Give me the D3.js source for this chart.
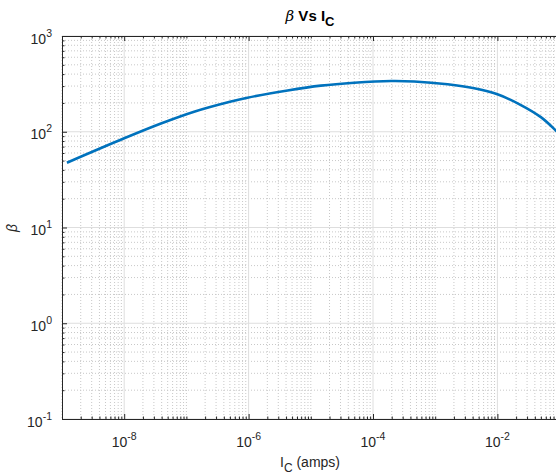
<!DOCTYPE html>
<html><head><meta charset="utf-8">
<script src="https://cdn.jsdelivr.net/npm/d3@7"></script>
<style>
body{margin:0;background:#fff;}
text{font-family:"Liberation Sans",Arial,Helvetica,sans-serif;}
</style></head>
<body><svg id="c" width="556" height="475"></svg>
<script>
// data
const icValues = [1.2e-9, 1e-8, 3.9e-8, 1.33e-7, 5.2e-7, 9.6e-7, 4.24e-6, 1.45e-5, 5.0e-5, 1.94e-4, 4.6e-4, 1.58e-3, 4.24e-3, 1e-2, 2.39e-2, 5.0e-2, 8.7e-2, 1e-1];
const betaValues = [47.5, 85.5, 122, 162, 207, 227, 270, 303, 325, 339, 335, 313, 284, 246, 190, 142, 103, 94];
const xMajorExp = [-8, -6, -4, -2];
const yMajorExp = [-1, 0, 1, 2, 3];

const svg = d3.select("#c");
const L = 62, T = 36, B = 419, R = 559.6;
const x = d3.scaleLog().domain([1e-9, 1e-1]).range([L, R]);
const y = d3.scaleLog().domain([1e-1, 1e3]).range([B, T]);

// minor values
const xMinor = [], yMinor = [];
for (let e = -9; e < -1; e++) for (let m = 1; m <= 9; m++) {
  const v = m * Math.pow(10, e);
  if (!(m === 1 && xMajorExp.includes(e))) xMinor.push(v);
}
xMinor.push(1e-1);
for (let e = -1; e < 3; e++) for (let m = 2; m <= 9; m++) yMinor.push(m * Math.pow(10, e));
const xMajor = xMajorExp.map(e => Math.pow(10, e));
const yMajor = yMajorExp.map(e => Math.pow(10, e));

const g = svg.append("g");
// minor grid
g.selectAll(".gxm").data(xMinor).join("line")
  .attr("x1", d => x(d)).attr("x2", d => x(d)).attr("y1", T).attr("y2", B)
  .attr("stroke", "#c8c8c8").attr("stroke-width", 1).attr("stroke-dasharray", "1,2");
g.selectAll(".gym").data(yMinor).join("line")
  .attr("y1", d => y(d)).attr("y2", d => y(d)).attr("x1", L).attr("x2", R)
  .attr("stroke", "#c8c8c8").attr("stroke-width", 1).attr("stroke-dasharray", "1,2");
// major grid
g.selectAll(".gx").data(xMajor).join("line")
  .attr("x1", d => x(d)).attr("x2", d => x(d)).attr("y1", T).attr("y2", B)
  .attr("stroke", "#dedede").attr("stroke-width", 1);
g.selectAll(".gy").data(yMajor).join("line")
  .attr("y1", d => y(d)).attr("y2", d => y(d)).attr("x1", L).attr("x2", R)
  .attr("stroke", "#dedede").attr("stroke-width", 1);

// axes (ticks inward)
function styleAxis(sel){
  sel.select(".domain").attr("stroke", "#262626");
  sel.selectAll(".tick line").attr("stroke", "#262626");
  sel.selectAll(".tick text").remove();
}
const axB = svg.append("g").attr("transform", `translate(0,${B})`)
  .call(d3.axisBottom(x).tickValues(xMajor).tickSizeInner(-5).tickSizeOuter(0).tickFormat(""));
styleAxis(axB);
const axBm = svg.append("g").attr("transform", `translate(0,${B})`)
  .call(d3.axisBottom(x).tickValues(xMinor).tickSizeInner(-2.5).tickSizeOuter(0).tickFormat(""));
styleAxis(axBm);
const axT = svg.append("g").attr("transform", `translate(0,${T})`)
  .call(d3.axisTop(x).tickValues(xMajor).tickSizeInner(-5).tickSizeOuter(0).tickFormat(""));
styleAxis(axT);
const axTm = svg.append("g").attr("transform", `translate(0,${T})`)
  .call(d3.axisTop(x).tickValues(xMinor).tickSizeInner(-2.5).tickSizeOuter(0).tickFormat(""));
styleAxis(axTm);
const axL = svg.append("g").attr("transform", `translate(${L},0)`)
  .call(d3.axisLeft(y).tickValues(yMajor).tickSizeInner(-5).tickSizeOuter(0).tickFormat(""));
styleAxis(axL);
const axLm = svg.append("g").attr("transform", `translate(${L},0)`)
  .call(d3.axisLeft(y).tickValues(yMinor).tickSizeInner(-2.5).tickSizeOuter(0).tickFormat(""));
styleAxis(axLm);

// tick labels
svg.selectAll(".xl").data(xMajorExp).join("text")
  .attr("x", d => x(Math.pow(10, d))).attr("y", 446.5)
  .attr("text-anchor", "middle").attr("font-size", 14).attr("fill", "#262626")
  .each(function(d){
    const t = d3.select(this);
    t.append("tspan").text("10");
    t.append("tspan").attr("dy", -7).attr("font-size", 10.5).text(d);
  });
svg.selectAll(".yl").data(yMajorExp).join("text")
  .attr("x", 52).attr("y", d => y(Math.pow(10, d)) + 7.5)
  .attr("text-anchor", "end").attr("font-size", 14).attr("fill", "#262626")
  .each(function(d){
    const t = d3.select(this);
    t.append("tspan").text("10");
    t.append("tspan").attr("dy", -7).attr("font-size", 10.5).text(d);
  });

// curve
svg.append("clipPath").attr("id", "pc").append("rect")
  .attr("x", L).attr("y", T).attr("width", R - L).attr("height", B - T);
const pts = icValues.map((v, i) => [v, betaValues[i]]);
svg.append("path").datum(pts)
  .attr("clip-path", "url(#pc)")
  .attr("d", d3.line().x(d => x(d[0])).y(d => y(d[1])).curve(d3.curveCatmullRom.alpha(0.5)))
  .attr("fill", "none").attr("stroke", "#0072BD").attr("stroke-width", 2.6);

// title
const title = svg.append("text").attr("x", 310).attr("y", 21)
  .attr("text-anchor", "middle").attr("font-size", 15).attr("font-weight", "bold").attr("fill", "#000");
title.append("tspan").attr("font-style", "italic").attr("font-weight", "normal").attr("font-family", "DejaVu Serif, serif").text("β");
title.append("tspan").text(" Vs I");
title.append("tspan").attr("dy", 5).attr("font-size", 13).text("C");

// x label
const xl = svg.append("text").attr("x", 310).attr("y", 466.5)
  .attr("text-anchor", "middle").attr("font-size", 14).attr("fill", "#262626");
xl.append("tspan").text("I");
xl.append("tspan").attr("dy", 5).attr("font-size", 12).text("C");
xl.append("tspan").attr("dy", -5).text(" (amps)");

// y label
svg.append("text").attr("transform", `translate(17,228) rotate(-90)`)
  .attr("text-anchor", "middle").attr("font-size", 14).attr("font-style", "italic")
  .attr("font-family", "DejaVu Serif, serif").attr("fill", "#262626").text("β");
</script></body></html>
